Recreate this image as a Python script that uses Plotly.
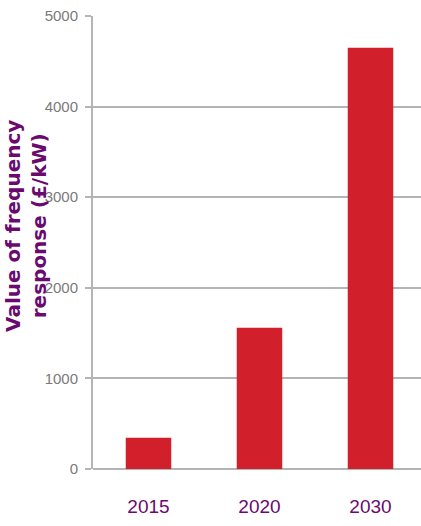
import plotly.graph_objects as go

categories = ["2015", "2020", "2030"]
values = [345, 1560, 4650]
y_ticks = [0, 1000, 2000, 3000, 4000, 5000]

purple = "#6a0a6e"
grey_text = "#7a7a7a"
grid = "#b4b4b4"

fig = go.Figure()
fig.add_trace(go.Bar(
    x=categories, y=values, width=0.41,
    marker=dict(color="#d11f2c", line=dict(width=0)),
))

fig.update_layout(
    width=421, height=526,
    margin=dict(l=93, r=0, t=16, b=57),
    paper_bgcolor="white", plot_bgcolor="white",
    showlegend=False,
    xaxis=dict(
        range=[-0.5, 2.455], showgrid=False, showline=False, zeroline=False,
        ticks="", ticklabelstandoff=24,
        tickfont=dict(family="Liberation Sans", size=19, color=purple),
    ),
    yaxis=dict(
        range=[0, 5000], tickvals=y_ticks, showgrid=True, gridcolor=grid, gridwidth=2,
        zeroline=True, zerolinecolor=grid, zerolinewidth=2,
        showline=True, linecolor=grid, linewidth=2,
        ticks="outside", ticklen=6, tickcolor=grid, tickwidth=2,
        ticklabelstandoff=4,
        tickfont=dict(family="Liberation Sans", size=15, color=grey_text),
    ),
    annotations=[dict(
        text="Value of frequency<br>response (£/kW)",
        xref="paper", yref="paper", x=-0.205, y=0.536,
        xanchor="center", yanchor="middle", textangle=-90, showarrow=False,
        font=dict(family="DejaVu Sans", size=20, color=purple, weight="bold"),
    )],
)

fig.write_html("out.html")
